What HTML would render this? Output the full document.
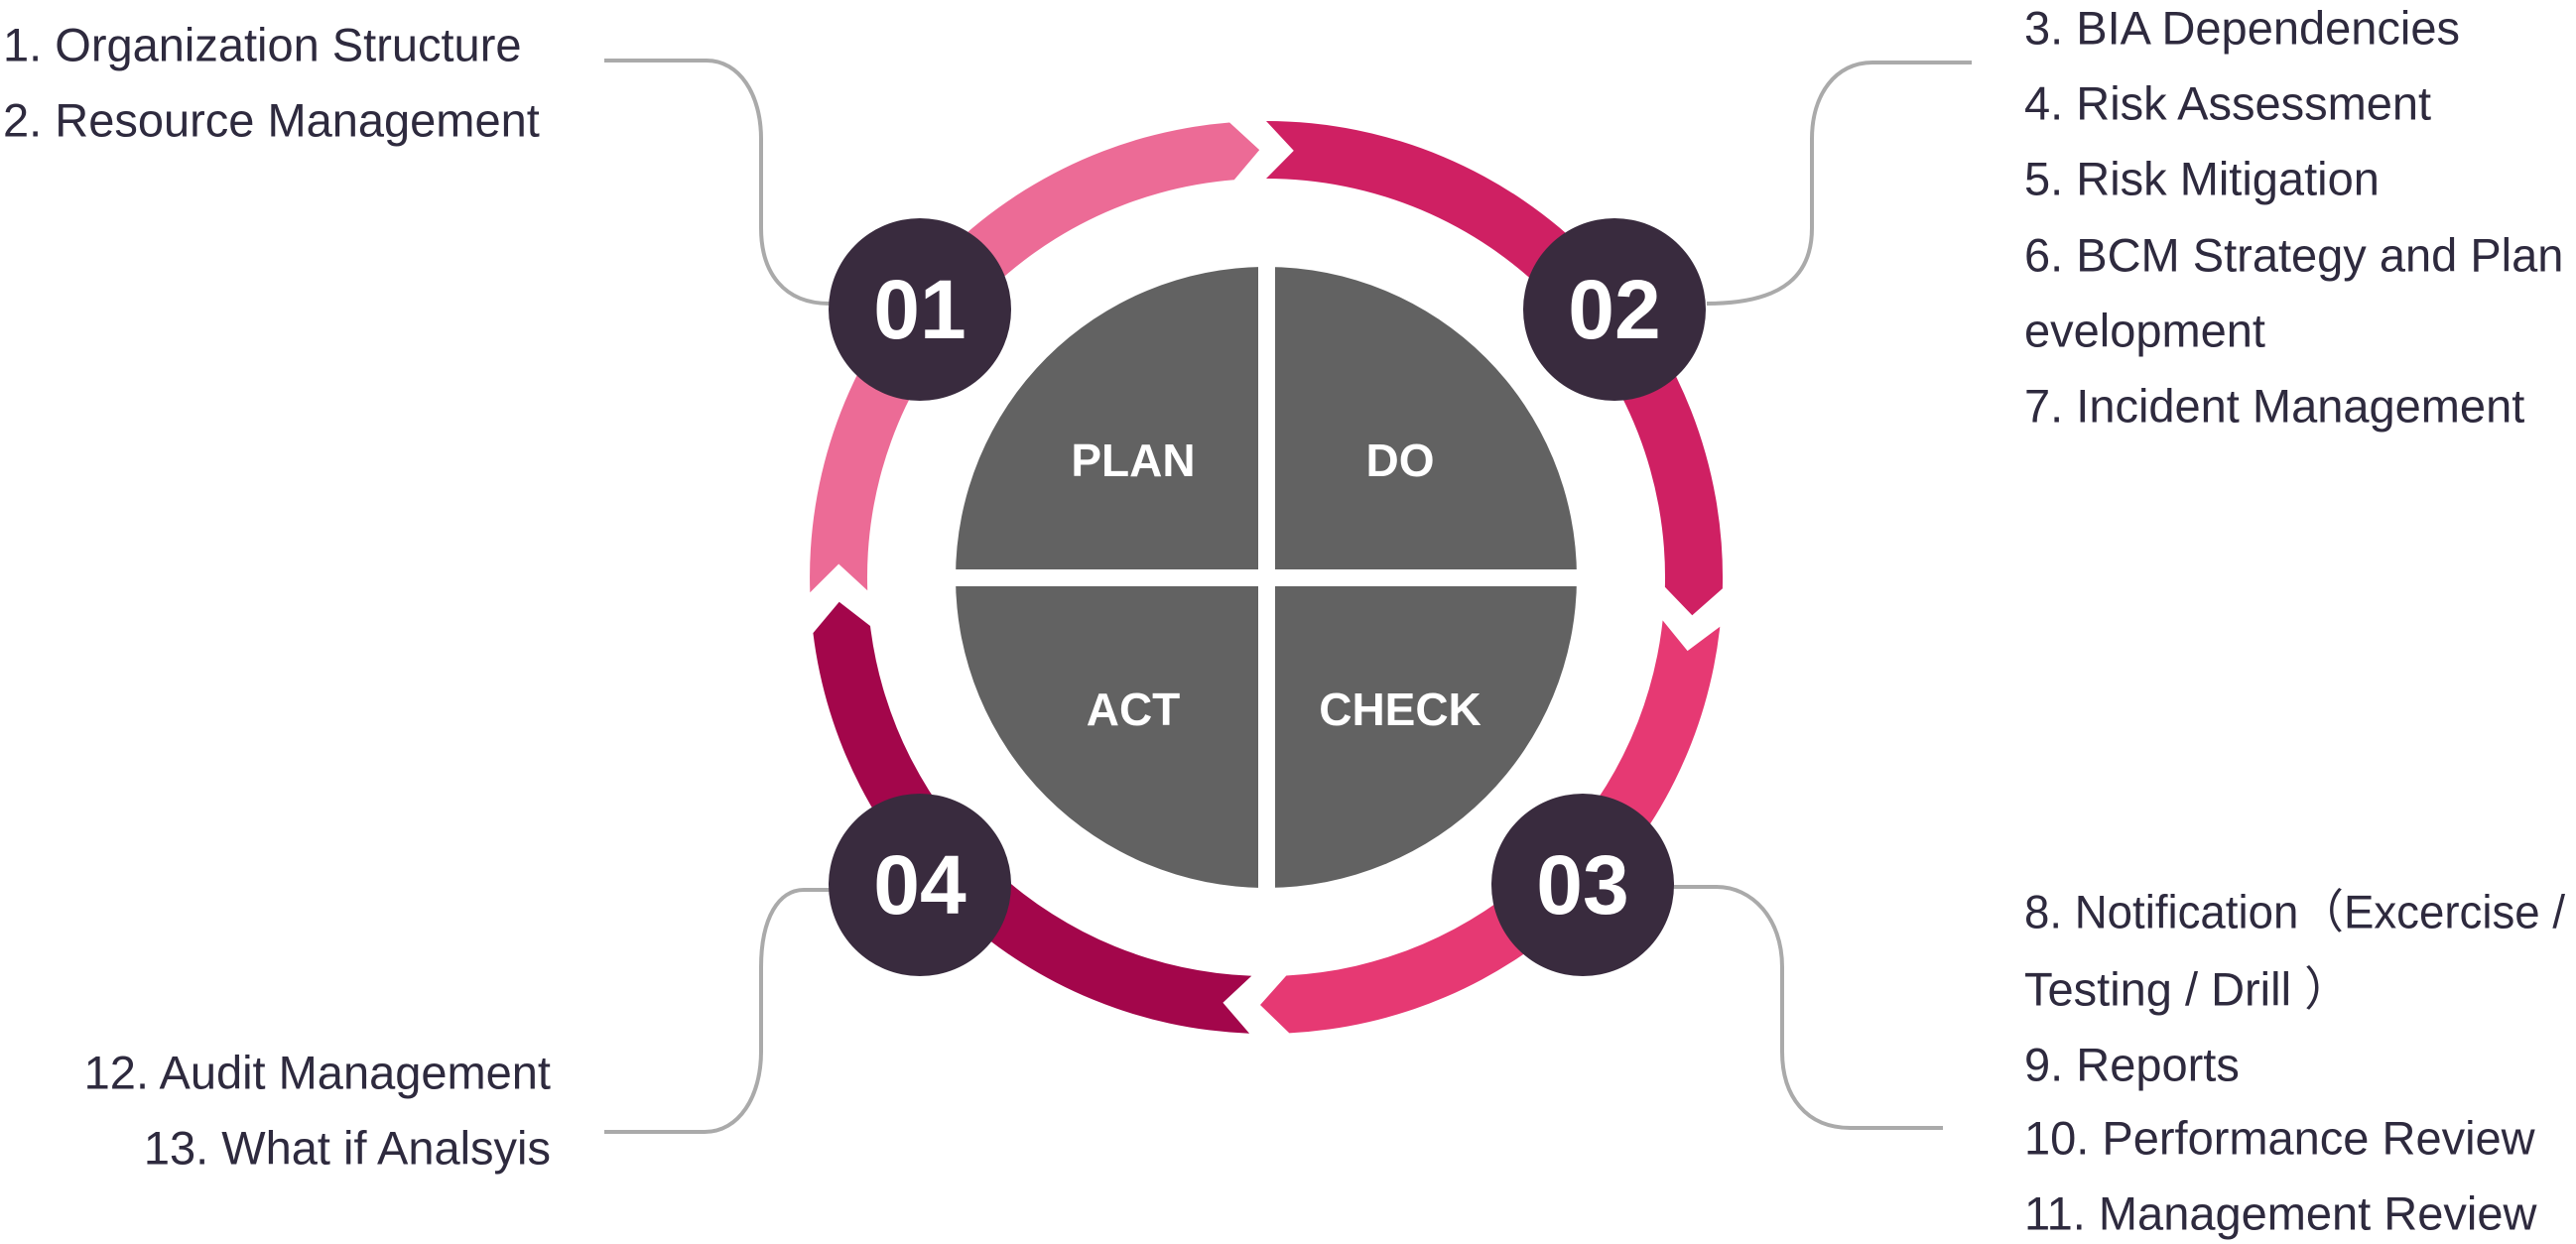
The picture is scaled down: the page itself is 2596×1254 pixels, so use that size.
<!DOCTYPE html>
<html><head><meta charset="utf-8"><style>
html,body{margin:0;padding:0;background:#fff;}
svg{display:block}
.t{font-family:"Liberation Sans","Noto Sans CJK SC",sans-serif;font-size:47px;fill:#2E2A3E;dominant-baseline:central}
.n{font-family:"Liberation Sans",sans-serif;font-weight:bold;font-size:84px;fill:#fff;text-anchor:middle;dominant-baseline:central}
.q{font-family:"Liberation Sans",sans-serif;font-weight:bold;font-size:46px;fill:#fff;text-anchor:middle;dominant-baseline:central}
</style></head><body>
<svg id="s" width="2596" height="1254" viewBox="0 0 2596 1254" xmlns="http://www.w3.org/2000/svg">
<g id="ring"></g>
<defs><clipPath id="c"><circle cx="1276" cy="582" r="313"/></clipPath></defs>
<g clip-path="url(#c)" fill="#626262">
<rect x="900" y="200" width="368" height="374"/>
<rect x="1285" y="200" width="368" height="374"/>
<rect x="900" y="591" width="368" height="374"/>
<rect x="1285" y="591" width="368" height="374"/>
</g>
<text class="q" x="1142" y="464">PLAN</text>
<text class="q" x="1411" y="464">DO</text>
<text class="q" x="1142" y="715">ACT</text>
<text class="q" x="1411" y="715">CHECK</text>
<g fill="none" stroke="#AAAAAA" stroke-width="4">
<path d="M609,61 H712 C745,61 767,95 767,140 V230 C767,275 790,306 836,306"/>
<path d="M1987,63 H1887 C1850,63 1826,95 1826,140 V230 C1826,275 1800,306 1720,306"/>
<path d="M1680,894 H1730 C1765,894 1796,925 1796,975 V1060 C1796,1105 1820,1137 1865,1137 H1958"/>
<path d="M836,897 H810 C785,897 767,925 767,975 V1060 C767,1105 745,1141 710,1141 H609"/>
</g>
<g fill="#392B3E">
<circle cx="927" cy="312" r="92"/>
<circle cx="1627" cy="312" r="92"/>
<circle cx="1595" cy="892" r="92"/>
<circle cx="927" cy="892" r="92"/>
</g>
<text class="n" x="927" y="312">01</text>
<text class="n" x="1627" y="312">02</text>
<text class="n" x="1595" y="892">03</text>
<text class="n" x="927" y="892">04</text>
<text class="t" x="3" y="45">1. Organization Structure</text>
<text class="t" x="3" y="121">2. Resource Management</text>
<text class="t" x="2040" y="28">3. BIA Dependencies</text>
<text class="t" x="2040" y="104">4. Risk Assessment</text>
<text class="t" x="2040" y="180">5. Risk Mitigation</text>
<text class="t" x="2040" y="257">6. BCM Strategy and Plan</text>
<text class="t" x="2040" y="333">evelopment</text>
<text class="t" x="2040" y="409">7. Incident Management</text>
<text class="t" x="2040" y="919" textLength="545" lengthAdjust="spacingAndGlyphs">8. Notification（Excercise /</text>
<text class="t" x="2040" y="997">Testing / Drill ）</text>
<text class="t" x="2040" y="1073">9. Reports</text>
<text class="t" x="2040" y="1147">10. Performance Review</text>
<text class="t" x="2040" y="1223">11. Management Review</text>
<text class="t" x="555" y="1081" text-anchor="end">12. Audit Management</text>
<text class="t" x="555" y="1157" text-anchor="end">13. What if Analsyis</text>
</svg>
<script>
(function(){
var cx=1276,cy=582,Ro=460,Ri=402,Rm=(Ro+Ri)/2,d=3.7;
function p(r,a){a=a*Math.PI/180;return (cx+r*Math.sin(a)).toFixed(1)+","+(cy-r*Math.cos(a)).toFixed(1);}
function seg(a0,a1,col){
 var s="M"+p(Ro,a0)+" A"+Ro+","+Ro+" 0 0 1 "+p(Ro,a1)+" L"+p(Rm,a1+d)+" L"+p(Ri,a1)+
  " A"+Ri+","+Ri+" 0 0 0 "+p(Ri,a0)+" L"+p(Rm,a0+d)+" Z";
 return '<path d="'+s+'" fill="'+col+'"/>';
}
document.getElementById("ring").innerHTML=
 seg(-91.9,-4.6,"#EC6B96")+seg(0,91.4,"#CF2063")+seg(96.2,177.1,"#E63973")+seg(182.1,263,"#A3064B");
})();
</script>
</body></html>
